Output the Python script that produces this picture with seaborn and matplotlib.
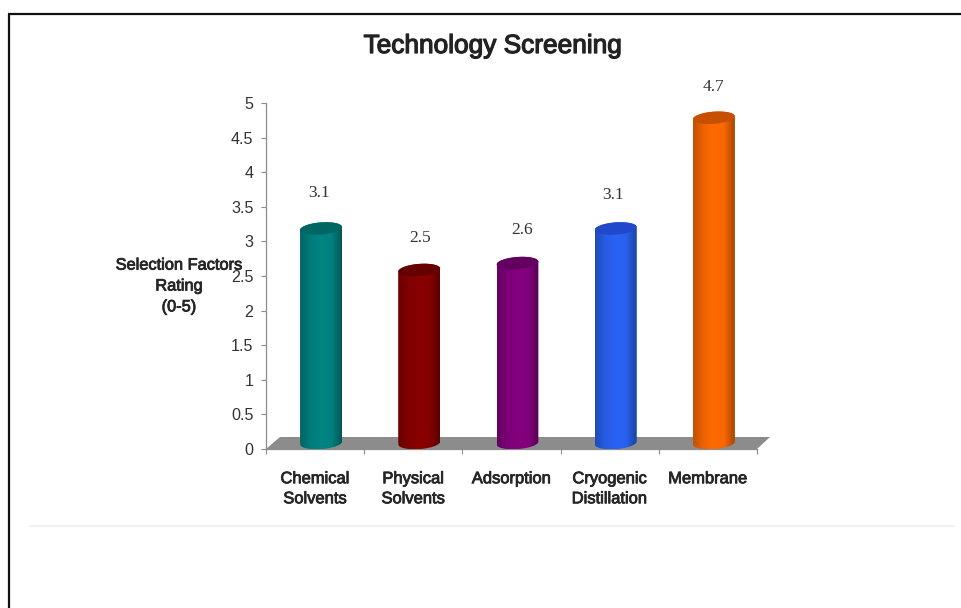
import numpy as np
import pandas as pd
import matplotlib
matplotlib.use("Agg")
import matplotlib.pyplot as plt
import matplotlib.patheffects as pe
import seaborn as sns
from matplotlib.colors import LinearSegmentedColormap, to_rgb
from matplotlib.lines import Line2D
from matplotlib.patches import Polygon

categories = ["Chemical\nSolvents", "Physical\nSolvents", "Adsorption",
              "Cryogenic\nDistillation", "Membrane"]
ratings = [3.1, 2.5, 2.6, 3.1, 4.7]
bar_colors = ["#008583", "#8A0000", "#85007F", "#2A63F5", "#FF6A00"]
cap_colors = ["#006664", "#640000", "#640060", "#1F48CC", "#C65000"]
y_ticks = [0, 0.5, 1, 1.5, 2, 2.5, 3, 3.5, 4, 4.5, 5]
y_tick_labels = ["0", "0.5", "1", "1.5", "2", "2.5", "3", "3.5", "4", "4.5", "5"]
label_nudges = [(-2, 41), (1, 38), (5, 39), (-3, 39), (0, 37)]

W, H = 962, 608
sns.set_theme(style="white")
plt.rcParams["font.family"] = ["Liberation Sans", "DejaVu Sans"]
INK = "#262626"
GREY = "#8C8C8C"


def heavy(width, color=INK):
    # thickens a regular face slightly, keeping its narrower proportions
    return [pe.withStroke(linewidth=width, foreground=color)]


fig = plt.figure(figsize=(W / 100, H / 100), dpi=100, facecolor="white")
ax = fig.add_axes([266 / W, (H - 449) / H, 491 / W, 346 / H])

df = pd.DataFrame({"category": categories, "rating": ratings})
sns.barplot(data=df, x="category", y="rating", hue="category", palette=bar_colors,
            width=0.425, linewidth=0, legend=False, ax=ax, zorder=3)
ax.set_xlim(-0.5, 4.5)
ax.set_ylim(0, 5)

# pseudo-3D depth of the chart floor and bars, in data units
px_x = 5 / 491
px_y = 5 / 346
shift_x = 6 * px_x
shift_y = 6 * px_y
radius_y = 6.1 * px_y
tilt = 0.07

ax.add_patch(Polygon([(-0.5, 0), (4.5, 0), (4.5 + 13 * px_x, 12 * px_y),
                      (-0.5 + 14 * px_x, 12 * px_y)],
                     closed=True, facecolor=GREY, edgecolor="none",
                     clip_on=False, zorder=1))


def rim(cx, cy, a, theta):
    dx = a * np.cos(theta)
    # slope is expressed in screen pixels, then converted back to data units
    dy = radius_y * np.sin(theta) + tilt * (dx / px_x) * px_y
    return np.column_stack([cx + dx, cy + dy])


for container, base, cap in zip(ax.containers, bar_colors, cap_colors):
    bar = container.patches[0]
    value = bar.get_height()
    a = bar.get_width() / 2
    cx = bar.get_x() + a + shift_x
    top = value + shift_y
    bar.set_x(bar.get_x() + shift_x)
    bar.set_y(shift_y)

    lower = rim(cx, shift_y, a, np.linspace(np.pi, 2 * np.pi, 50))
    upper = rim(cx, top, a, np.linspace(0, np.pi, 50))
    body = Polygon(np.vstack([lower, upper]), closed=True,
                   facecolor="none", edgecolor="none", zorder=3)
    ax.add_patch(body)
    bar.set_clip_path(body)

    rgb = np.array(to_rgb(base))
    shade = LinearSegmentedColormap.from_list(
        "cyl", [rgb * 0.76, rgb * 0.93, rgb, rgb * 0.97, rgb * 0.66])
    img = ax.imshow(np.linspace(0, 1, 128).reshape(1, -1), cmap=shade, aspect="auto",
                    extent=(cx - a, cx + a, 0, top + radius_y * 2), zorder=3.1,
                    interpolation="bilinear")
    img.set_clip_path(body)

    ax.add_patch(Polygon(rim(cx, top, a, np.linspace(0, 2 * np.pi, 80)), closed=True,
                         facecolor=cap, edgecolor="none", zorder=3.2))

ax.set_xlim(-0.5, 4.5)
ax.set_ylim(0, 5)

for x, v, (dx, dy) in zip(np.arange(len(ratings)), ratings, label_nudges):
    ax.annotate(f"{v:.1f}", xy=(x + shift_x, v), xytext=(dx * 0.72, dy * 0.72),
                textcoords="offset points", ha="center", va="center",
                family="Liberation Serif", fontsize=12.5, color="#333333",
                annotation_clip=False)

for side in ("top", "right"):
    ax.spines[side].set_visible(False)
for side in ("left", "bottom"):
    ax.spines[side].set_color("#8C8C8C")
    ax.spines[side].set_linewidth(0.9)

ax.set_xlabel("")
ax.set_ylabel("")
ax.set_yticks(y_ticks, y_tick_labels)
ax.tick_params(axis="y", which="major", left=True, length=3.6, width=0.8, color=GREY,
               pad=5.5, labelsize=11.6, labelcolor="#333333")
ax.set_xticks(np.arange(-0.5, 5), minor=True)
ax.set_xticks(np.arange(len(categories)), categories)
ax.tick_params(axis="x", which="minor", bottom=True, length=3.6, width=0.8, color=GREY)
ax.tick_params(axis="x", which="major", bottom=False, pad=10, labelsize=11.9, labelcolor=INK)
for tick in ax.get_xticklabels():
    tick.set_linespacing(1.42)
    tick.set_path_effects(heavy(0.6))

fig.text(493 / W, 1 - 46 / H, "Technology Screening", ha="center", va="center",
         fontsize=18.9, color="#222222", path_effects=heavy(0.9, "#222222"))
# placed beside the axis as a free text block so it can overlap the tick column
fig.text(179 / W, 1 - 286 / H, "Selection Factors\nRating\n(0-5)", ha="center", va="center",
         fontsize=11.8, color=INK, linespacing=1.49, zorder=5, path_effects=heavy(0.6))

# slide frame and the faint divider under the chart
fig.add_artist(Line2D([8 / W, 1], [1 - 13.5 / H] * 2, color="#111111", lw=1.6,
                      solid_capstyle="butt"))
fig.add_artist(Line2D([9 / W] * 2, [0, 1 - 13.5 / H], color="#111111", lw=1.6,
                      solid_capstyle="butt"))
fig.add_artist(Line2D([29 / W, 955 / W], [1 - 526 / H] * 2, color="#F1F1F1", lw=1.5,
                      solid_capstyle="butt"))

fig.savefig("out.png", dpi=100)
